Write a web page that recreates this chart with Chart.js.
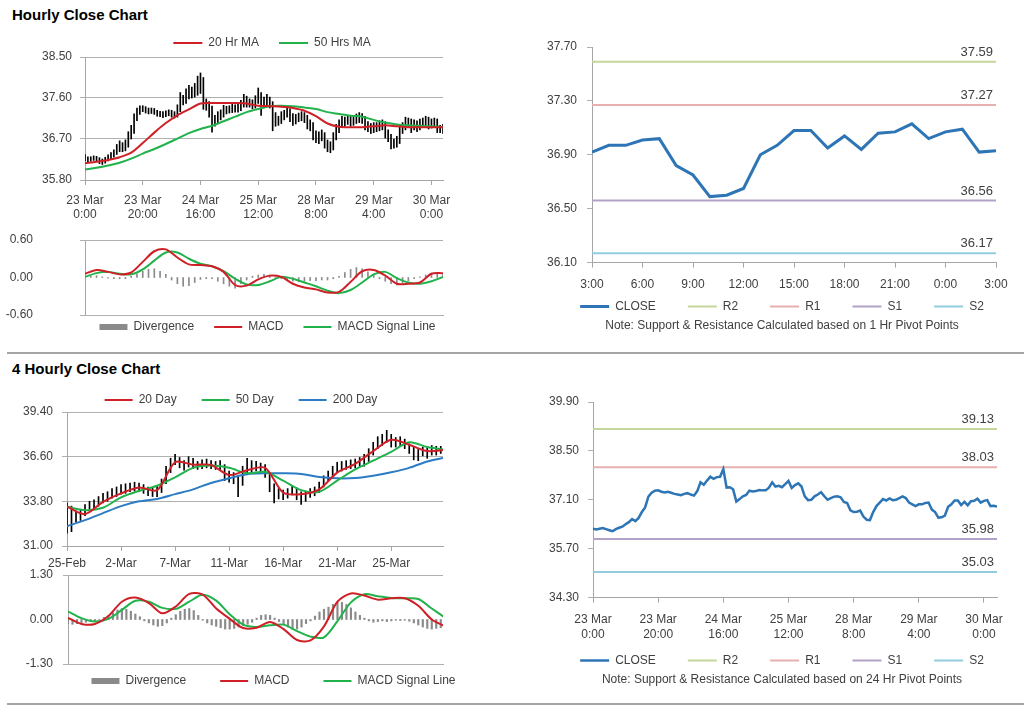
<!DOCTYPE html>
<html>
<head>
<meta charset="utf-8">
<title>Hourly Close Chart</title>
<script src="https://cdn.jsdelivr.net/npm/chart.js@4.4.1/dist/chart.umd.min.js"></script>
<style>
  body { margin: 0; width: 1024px; height: 706px; background: #fff; position: relative; overflow: hidden;
         font-family: Arial, "Liberation Sans", sans-serif; }
  .head { position: absolute; left: 12px; font-size: 15px; line-height: 18px; font-weight: bold; color: #000; }
  .rule { position: absolute; left: 7px; width: 1017px; height: 2px; background: #a5a5a5; }
  canvas { position: absolute; }
</style>
</head>
<body>
<div class="head" style="top:6px">Hourly Close Chart</div>
<div class="rule" style="top:352px"></div>
<div class="head" style="top:360px">4 Hourly Close Chart</div>
<div class="rule" style="top:703px"></div>

<canvas id="hourlyPrice" width="514" height="200" style="left:15px;top:20px"></canvas>
<canvas id="hourlyMacd" width="535" height="111" style="left:0px;top:228px"></canvas>
<canvas id="pivot1h" width="484" height="296" style="left:540px;top:37px"></canvas>
<canvas id="h4Price" width="462" height="186" style="left:10px;top:385px"></canvas>
<canvas id="h4Macd" width="527" height="126" style="left:10px;top:565px"></canvas>
<canvas id="pivot24h" width="484" height="295" style="left:540px;top:392px"></canvas>

<script>
// ---------- hourly data, 23 Mar 0:00 .. 30 Mar 4:00 (one value per hour) ----------
const hourlyTicks = [['23 Mar', '0:00'], ['23 Mar', '20:00'], ['24 Mar', '16:00'], ['25 Mar', '12:00'],
                     ['28 Mar', '8:00'], ['29 Mar', '4:00'], ['30 Mar', '0:00']];
const hourlyPriceTicks = [35.80, 36.70, 37.60, 38.50];

const hourlyClose = [
  36.27, 36.25, 36.27, 36.29, 36.26, 36.23, 36.20, 36.26, 36.30, 36.33,
  36.40, 36.46, 36.55, 36.49, 36.58, 36.75, 36.88, 37.19, 37.30, 37.36,
  37.37, 37.33, 37.31, 37.33, 37.30, 37.27, 37.25, 37.23, 37.27, 37.29,
  37.25, 37.22, 37.35, 37.60, 37.53, 37.65, 37.76, 37.70, 37.75, 37.76,
  37.98, 37.45, 37.46, 37.40, 37.05, 37.12, 37.20, 37.24, 37.36, 37.34,
  37.35, 37.38, 37.37, 37.37, 37.45, 37.60, 37.48, 37.50, 37.46, 37.55,
  37.64, 37.44, 37.52, 37.57, 37.48, 37.20, 37.09, 37.10, 37.20, 37.25,
  37.32, 37.20, 37.10, 37.15, 37.19, 37.20, 37.17, 37.04, 37.01, 36.80,
  36.75, 36.76, 36.79, 36.62, 36.53, 36.52, 36.75, 36.92, 37.02, 37.12,
  37.08, 37.14, 37.09, 37.10, 37.15, 37.20, 37.15, 37.02, 36.97, 36.92,
  36.97, 36.97, 37.01, 37.02, 36.82, 36.75, 36.59, 36.60, 36.65, 36.90,
  36.97, 37.08, 37.08, 36.95, 37.04, 36.94, 37.06, 37.07, 37.13, 37.02,
  37.07, 37.09, 36.92, 36.93, 36.91
];
const hourlyLow = [
  36.22, 36.20, 36.21, 36.23, 36.21, 36.16, 36.14, 36.17, 36.22, 36.26,
  36.30, 36.36, 36.42, 36.42, 36.44, 36.52, 36.70, 36.82, 37.10, 37.24,
  37.30, 37.27, 37.25, 37.26, 37.24, 37.20, 37.19, 37.17, 37.19, 37.21,
  37.18, 37.16, 37.18, 37.30, 37.45, 37.48, 37.58, 37.60, 37.62, 37.66,
  37.70, 37.35, 37.33, 37.18, 36.85, 36.98, 37.05, 37.12, 37.18, 37.25,
  37.27, 37.28, 37.29, 37.29, 37.32, 37.40, 37.40, 37.40, 37.36, 37.38,
  37.48, 37.22, 37.38, 37.44, 37.38, 36.88, 36.98, 37.00, 37.04, 37.12,
  37.18, 37.08, 37.00, 37.03, 37.08, 37.10, 37.06, 36.92, 36.88, 36.68,
  36.62, 36.60, 36.66, 36.50, 36.42, 36.40, 36.46, 36.68, 36.84, 36.96,
  36.98, 37.02, 36.98, 37.00, 37.04, 37.06, 37.04, 36.90, 36.86, 36.82,
  36.84, 36.86, 36.88, 36.90, 36.72, 36.64, 36.48, 36.50, 36.52, 36.60,
  36.82, 36.90, 36.96, 36.84, 36.90, 36.86, 36.90, 36.96, 37.00, 36.92,
  36.94, 36.98, 36.84, 36.84, 36.82
];
const hourlyHigh = [
  36.36, 36.31, 36.31, 36.33, 36.32, 36.29, 36.26, 36.30, 36.35, 36.40,
  36.46, 36.58, 36.66, 36.62, 36.68, 36.86, 37.00, 37.25, 37.38, 37.43,
  37.43, 37.41, 37.38, 37.38, 37.37, 37.33, 37.31, 37.30, 37.32, 37.34,
  37.33, 37.30, 37.45, 37.72, 37.66, 37.80, 37.88, 37.84, 37.92, 38.08,
  38.15, 38.05, 37.58, 37.52, 37.42, 37.22, 37.30, 37.34, 37.44, 37.42,
  37.43, 37.46, 37.45, 37.46, 37.55, 37.68, 37.64, 37.58, 37.56, 37.65,
  37.82, 37.72, 37.62, 37.68, 37.62, 37.52, 37.28, 37.20, 37.30, 37.33,
  37.42, 37.36, 37.26, 37.24, 37.27, 37.30, 37.28, 37.22, 37.12, 37.06,
  36.88, 36.86, 36.90, 36.84, 36.68, 36.64, 36.84, 37.02, 37.12, 37.20,
  37.18, 37.22, 37.20, 37.20, 37.25, 37.28, 37.26, 37.20, 37.08, 37.04,
  37.06, 37.06, 37.10, 37.12, 37.08, 36.90, 36.80, 36.70, 36.76, 36.98,
  37.06, 37.18, 37.16, 37.14, 37.12, 37.10, 37.14, 37.16, 37.20, 37.18,
  37.14, 37.16, 37.14, 37.00, 37.02
];
// moving averages, one value every 4 hours
const hourlyMa20 = [36.17, 36.20, 36.24, 36.30, 36.40, 36.61, 36.84, 37.05, 37.22, 37.35, 37.48, 37.49, 37.49, 37.49, 37.48, 37.43,
                    37.42, 37.41, 37.38, 37.32, 37.20, 37.04, 36.97, 36.96, 36.96, 36.98, 37.00, 36.98, 36.96, 36.96, 36.96, 36.96];
const hourlyMa50 = [36.03, 36.07, 36.12, 36.18, 36.27, 36.38, 36.48, 36.59, 36.71, 36.83, 36.92, 36.99, 37.09, 37.19, 37.29, 37.36,
                    37.42, 37.43, 37.42, 37.39, 37.36, 37.29, 37.25, 37.21, 37.19, 37.12, 37.06, 37.02, 37.00, 36.99, 36.98, 36.96];

const hourlyMacdTicks = [-0.60, 0.00, 0.60];
// every 4 hours
const hourlyMacd = [0.06, 0.12, 0.09, 0.05, 0.08, 0.25, 0.42, 0.45, 0.32, 0.21, 0.20, 0.18, 0.09, -0.12, -0.13, -0.03,
                    0.03, 0.01, -0.10, -0.16, -0.19, -0.24, -0.23, -0.07, 0.10, 0.12, 0.03, -0.10, -0.10, -0.08, 0.06, 0.07];
const hourlySignal = [0.01, 0.07, 0.09, 0.06, 0.05, 0.13, 0.27, 0.40, 0.40, 0.30, 0.22, 0.18, 0.10, -0.02, -0.11, -0.12,
                      -0.06, 0.01, -0.02, -0.08, -0.14, -0.21, -0.25, -0.20, -0.08, 0.05, 0.09, -0.01, -0.08, -0.10, -0.06, 0.01];
// every 2 hours
const hourlyDivergence = [
  0.03, 0.02, 0.03, 0.01, -0.01, -0.02, -0.02, -0.02, 0.02, 0.06,
  0.10, 0.13, 0.14, 0.10, 0.05, -0.04, -0.10, -0.14, -0.13, -0.08,
  -0.03, -0.02, -0.02, -0.06, -0.10, -0.14, -0.17, -0.10, -0.04, 0.02,
  0.04, 0.05, 0.04, 0.01, -0.02, -0.04, -0.06, -0.07, -0.06, -0.05,
  -0.05, -0.04, -0.04, -0.02, 0.02, 0.08, 0.13, 0.16, 0.14, 0.09,
  0.04, -0.02, -0.06, -0.10, -0.12, -0.09, -0.05, -0.02, 0.01, 0.04,
  0.07, 0.06, 0.05
];

// ---------- 1 Hr pivot chart: last 24 hours of the hourly close ----------
const pivot1Ticks = ['3:00', '6:00', '9:00', '12:00', '15:00', '18:00', '21:00', '0:00', '3:00'];
const pivot1PriceTicks = [36.10, 36.50, 36.90, 37.30, 37.70];
const pivot1Levels = [37.59, 37.27, 36.56, 36.17];
const levelNames = ['R2', 'R1', 'S1', 'S2'];

// ---------- 4 hourly data (one value per bar) ----------
const h4Ticks = ['25-Feb', '2-Mar', '7-Mar', '11-Mar', '16-Mar', '21-Mar', '25-Mar'];
const h4PriceTicks = [31.00, 33.80, 36.60, 39.40];
const h4Low = [
  31.80, 31.90, 32.50, 32.60, 32.90, 33.20, 33.30, 33.50, 33.70, 33.80,
  34.00, 34.10, 34.25, 34.30, 34.40, 34.45, 34.40, 34.30, 34.15, 34.10,
  34.10, 34.35, 34.90, 35.60, 36.10, 35.90, 35.75, 35.95, 35.85, 35.80,
  35.85, 35.90, 35.85, 35.80, 35.75, 35.10, 35.00, 34.90, 34.10, 34.80,
  35.60, 35.65, 35.70, 35.60, 35.30, 34.40, 33.70, 33.95, 33.90, 34.00,
  34.20, 33.90, 33.60, 33.80, 34.05, 34.15, 34.35, 34.70, 35.05, 35.35,
  35.65, 35.70, 35.80, 35.85, 35.90, 36.00, 36.00, 36.30, 36.70, 37.10,
  37.30, 37.50, 37.20, 37.20, 37.25, 37.10, 36.80, 36.40, 36.35, 36.65,
  36.50, 36.70, 36.70, 36.80
];
const h4High = [
  33.70, 33.50, 33.20, 33.30, 33.60, 33.80, 33.90, 34.10, 34.30, 34.40,
  34.60, 34.70, 34.85, 34.90, 34.95, 35.00, 34.95, 34.85, 34.70, 34.65,
  34.75, 35.20, 36.00, 36.50, 36.75, 36.55, 36.35, 36.60, 36.50, 36.30,
  36.40, 36.45, 36.35, 36.30, 36.35, 36.10, 35.70, 35.60, 35.40, 36.00,
  36.50, 36.35, 36.30, 36.20, 36.10, 35.60, 34.90, 34.60, 34.50, 34.60,
  34.80, 34.65, 34.40, 34.45, 34.60, 34.70, 35.00, 35.40, 35.70, 36.00,
  36.25, 36.30, 36.35, 36.40, 36.45, 36.55, 36.75, 37.10, 37.50, 37.85,
  38.00, 38.25, 38.00, 37.80, 37.85, 37.70, 37.40, 37.20, 37.05, 37.20,
  37.15, 37.30, 37.25, 37.25
];
// moving averages, one value every 4 bars
const h4Ma20 = [33.46, 33.00, 33.77, 34.30, 34.67, 34.50, 36.25, 36.10, 36.08, 35.45, 35.75,
                35.90, 34.35, 34.25, 34.55, 35.60, 36.15, 36.95, 37.66, 37.35, 36.95, 37.03];
const h4Ma50 = [33.46, 33.25, 33.40, 34.05, 34.45, 34.78, 35.30, 35.90, 36.04, 35.90, 35.56,
                35.65, 35.10, 34.50, 34.40, 35.10, 35.80, 36.35, 36.90, 37.50, 37.20, 37.03];
const h4Ma200 = [32.24, 32.62, 33.06, 33.50, 33.80, 33.95, 34.25, 34.55, 34.95, 35.25, 35.50,
                 35.56, 35.56, 35.52, 35.32, 35.24, 35.26, 35.40, 35.62, 35.90, 36.30, 36.55];

const h4MacdTicks = [-1.30, 0.00, 1.30];
// every 3 bars
const h4Macd = [0.05, -0.13, -0.13, 0.10, 0.52, 0.64, 0.48, 0.18, 0.38, 0.75, 0.73, 0.32, 0.02, -0.25, -0.24,
                -0.07, -0.28, -0.60, -0.61, -0.20, 0.52, 0.76, 0.70, 0.58, 0.62, 0.62, 0.40, 0.00, -0.20];
const h4Signal = [0.24, 0.04, -0.06, 0.02, 0.28, 0.55, 0.52, 0.34, 0.31, 0.52, 0.72, 0.55, 0.15, -0.15, -0.22,
                  -0.17, -0.15, -0.34, -0.50, -0.52, -0.05, 0.50, 0.74, 0.68, 0.63, 0.62, 0.60, 0.32, 0.05];
// every bar
const h4Divergence = [
  -0.12, -0.14, -0.12, -0.10, -0.08, -0.06, -0.04, -0.02, 0.06, 0.12,
  0.20, 0.28, 0.32, 0.30, 0.24, 0.16, 0.08, -0.04, -0.10, -0.16,
  -0.20, -0.18, -0.10, 0.04, 0.14, 0.24, 0.30, 0.32, 0.26, 0.12,
  -0.02, -0.10, -0.16, -0.20, -0.24, -0.28, -0.28, -0.26, -0.22, -0.18,
  -0.14, -0.08, 0.04, 0.12, 0.14, 0.12, 0.04, -0.06, -0.14, -0.22,
  -0.28, -0.28, -0.22, -0.12, -0.04, 0.10, 0.22, 0.30, 0.36, 0.44,
  0.50, 0.50, 0.44, 0.34, 0.22, 0.12, 0.04, -0.04, -0.08, -0.06,
  -0.04, -0.06, -0.04, -0.02, -0.03, -0.02, -0.05, -0.10, -0.16, -0.22,
  -0.26, -0.28, -0.26, -0.24
];

// ---------- 24 Hr pivot chart ----------
const pivot24PriceTicks = [34.30, 35.70, 37.10, 38.50, 39.90];
const pivot24Levels = [39.13, 38.03, 35.98, 35.03];

// ---------- styling ----------
const RED = '#cf2027';
const GREEN = '#22b24c';
const BLUE = '#2b7cc4';
const CLOSE_BLUE = '#2e75b6';
const AXIS = '#a6a6a6';
const GRID = '#b0b0b0';
const levelColors = ['#c3d69b', '#e6b0b0', '#b3a2c7', '#93cddd'];

Chart.defaults.font.family = 'Arial, "Liberation Sans", sans-serif';
Chart.defaults.font.size = 12;
Chart.defaults.color = '#404040';
Chart.defaults.animation = false;
Chart.defaults.responsive = false;
Chart.defaults.events = [];
Chart.defaults.elements.point.radius = 0;
Chart.defaults.elements.point.hoverRadius = 0;
Chart.defaults.plugins.tooltip.enabled = false;

function xy(values, step) {
  return values.map((v, i) => ({ x: i * step, y: v }));
}
function bars(lows, highs) {
  return lows.map((lo, i) => ({ x: i, y: [lo, highs[i]] }));
}
function flat(level, xMax) {
  return [{ x: 0, y: level }, { x: xMax, y: level }];
}

// MACD panels: grid lines at the top and bottom only, none through zero
const skipZero = c => (c.tick && Math.abs(c.tick.value) < 1e-9) ? 0 : 1;

function yAxis(ticks, width, pad, lines, lineWidth) {
  return {
    min: ticks[0],
    max: ticks[ticks.length - 1],
    afterBuildTicks: s => { s.ticks = ticks.map(v => ({ value: v })); },
    afterFit: s => { s.width = width; s.paddingTop = 0; s.paddingBottom = 0; },
    ticks: { padding: pad, callback: v => v.toFixed(2) },
    grid: { drawOnChartArea: lines, tickLength: 5, color: GRID, lineWidth: lineWidth || 1 },
    border: { color: AXIS }
  };
}

// "bare" axes (under the MACD panels) keep their line but show no labels or tick marks
function xAxis(max, every, labels, o) {
  return {
    type: 'linear',
    min: 0,
    max: max,
    offset: false,
    afterBuildTicks: s => { s.ticks = labels.map((_, i) => ({ value: i * every })); },
    afterFit: s => { s.height = o.height; s.paddingRight = o.right; },
    ticks: { padding: o.pad || 0, autoSkip: false, maxRotation: 0, minRotation: 0,
             callback: v => o.bare ? '' : labels[Math.round(v / every)] },
    grid: { offset: false, drawOnChartArea: false, drawTicks: !o.bare, tickLength: 5, color: AXIS },
    border: { color: AXIS, width: 1 }
  };
}

// legend entries: short line for series, flat box for the divergence bars
function legendItems(chart) {
  const sets = chart.data.datasets;
  return Chart.defaults.plugins.legend.labels.generateLabels(chart)
    .filter(it => sets[it.datasetIndex].label)
    .map(it => Object.assign(it, { pointStyle: sets[it.datasetIndex].type === 'bar' ? 'rect' : 'line' }))
    .sort((a, b) => a.datasetIndex - b.datasetIndex);
}

function legendOpts(position, padding, lineWidth) {
  return {
    position: position,
    labels: { usePointStyle: true, pointStyleWidth: lineWidth, boxHeight: 6, padding: padding,
              color: '#404040', font: { size: 12 }, generateLabels: legendItems }
  };
}

// fixed legend height; the legend box is then stretched so its row sits where it does in the report
function legendBox(height, shift) {
  return {
    id: 'legendBox',
    afterInit(chart) {
      const lg = chart.legend;
      const fit = lg.fit;
      lg.fit = function () { fit.call(this); this.height = height; };
    },
    afterLayout(chart) {
      chart.legend.top += shift;
      chart.legend.bottom += 10;
    }
  };
}

// top and bottom frame lines of the MACD panels, placed by the y scale
function frameLines(ticks) {
  return {
    id: 'frameLines',
    beforeDatasetsDraw(chart) {
      const { ctx, chartArea, scales } = chart;
      ctx.save();
      ctx.strokeStyle = GRID;
      ctx.lineWidth = 1;
      [ticks[0], ticks[ticks.length - 1]].forEach(v => {
        const py = Math.round(scales.y.getPixelForValue(v)) + 0.5;
        ctx.beginPath();
        ctx.moveTo(chartArea.left, py);
        ctx.lineTo(chartArea.right, py);
        ctx.stroke();
      });
      ctx.restore();
    }
  };
}

// value written above the right end of each pivot level
function levelLabels(levels) {
  return {
    id: 'levelLabels',
    afterDatasetsDraw(chart) {
      const { ctx, chartArea, scales } = chart;
      ctx.save();
      ctx.font = '13px Arial, "Liberation Sans", sans-serif';
      ctx.fillStyle = '#404040';
      ctx.textAlign = 'right';
      ctx.textBaseline = 'bottom';
      levels.forEach(v => ctx.fillText(v.toFixed(2), chartArea.right - 3, scales.y.getPixelForValue(v) - 3));
      ctx.restore();
    }
  };
}

function pivotDatasets(close, levels, xMax, closeWidth) {
  return [{ type: 'line', label: 'CLOSE', data: close, borderColor: CLOSE_BLUE, borderWidth: closeWidth, tension: 0 }]
    .concat(levelNames.map((name, k) => ({
      type: 'line', label: name, data: flat(levels[k], xMax), borderColor: levelColors[k], borderWidth: 2
    })));
}

// ---------- hourly close with 20 / 50 hour averages ----------
new Chart(document.getElementById('hourlyPrice'), {
  type: 'line',
  data: {
    datasets: [
      { type: 'line', label: '20 Hr MA', data: xy(hourlyMa20, 4), borderColor: RED, borderWidth: 2, tension: 0.3 },
      { type: 'line', label: '50 Hrs MA', data: xy(hourlyMa50, 4), borderColor: GREEN, borderWidth: 2, tension: 0.3 },
      { type: 'bar', data: bars(hourlyLow, hourlyHigh), backgroundColor: '#000', barThickness: 1 }
    ]
  },
  options: {
    scales: {
      x: xAxis(124, 20, hourlyTicks, { height: 40, right: 86, pad: 8 }),
      y: yAxis(hourlyPriceTicks, 70, 8, true)
    },
    plugins: { legend: legendOpts('top', 20, 29) }
  },
  plugins: [legendBox(37, -3)]
});

// ---------- hourly MACD ----------
new Chart(document.getElementById('hourlyMacd'), {
  type: 'line',
  data: {
    datasets: [
      { type: 'bar', label: 'Divergence', data: xy(hourlyDivergence, 2), backgroundColor: '#8a8a8a', barThickness: 1, order: 1 },
      { type: 'line', label: 'MACD', data: xy(hourlyMacd, 4), borderColor: RED, borderWidth: 2, tension: 0.3, order: 0 },
      { type: 'line', label: 'MACD Signal Line', data: xy(hourlySignal, 4), borderColor: GREEN, borderWidth: 2, tension: 0.3, order: 0 }
    ]
  },
  options: {
    layout: { padding: { top: 12 } },
    scales: {
      x: xAxis(124, 20, hourlyTicks, { height: 1, right: 92, bare: true }),
      y: yAxis(hourlyMacdTicks, 85, 47, true, skipZero)
    },
    plugins: { legend: legendOpts('bottom', 20, 28) }
  },
  plugins: [legendBox(23, -15), frameLines(hourlyMacdTicks)]
});

// ---------- 1 Hr pivot points ----------
new Chart(document.getElementById('pivot1h'), {
  type: 'line',
  data: { datasets: pivotDatasets(xy(hourlyClose.slice(99, 124), 1), pivot1Levels, 24, 3) },
  options: {
    layout: { padding: { top: 10 } },
    scales: {
      x: xAxis(24, 3, pivot1Ticks, { height: 30, right: 28, pad: 10 }),
      y: yAxis(pivot1PriceTicks, 52, 10, false)
    },
    plugins: {
      legend: legendOpts('bottom', 32, 29),
      title: { display: true, position: 'bottom', text: 'Note: Support & Resistance Calculated based on 1 Hr Pivot Points',
               color: '#404040', font: { size: 12, weight: 'normal' }, padding: { top: 6, bottom: 0 } }
    }
  },
  plugins: [legendBox(20, -24), levelLabels(pivot1Levels)]
});

// ---------- 4 hourly close with 20 / 50 / 200 averages ----------
new Chart(document.getElementById('h4Price'), {
  type: 'line',
  data: {
    datasets: [
      { type: 'line', label: '20 Day', data: xy(h4Ma20, 4), borderColor: RED, borderWidth: 2, tension: 0.3 },
      { type: 'line', label: '50 Day', data: xy(h4Ma50, 4), borderColor: GREEN, borderWidth: 2, tension: 0.3 },
      { type: 'line', label: '200 Day', data: xy(h4Ma200, 4), borderColor: BLUE, borderWidth: 2, tension: 0.3 },
      { type: 'bar', data: bars(h4Low, h4High), backgroundColor: '#000', barThickness: 1 }
    ]
  },
  options: {
    scales: {
      x: xAxis(83.5, 12, h4Ticks, { height: 25, right: 29, pad: 5 }),
      y: yAxis(h4PriceTicks, 57, 9, true)
    },
    plugins: { legend: legendOpts('top', 25, 28) }
  },
  plugins: [legendBox(27, -16)]
});

// ---------- 4 hourly MACD ----------
new Chart(document.getElementById('h4Macd'), {
  type: 'line',
  data: {
    datasets: [
      { type: 'bar', label: 'Divergence', data: xy(h4Divergence, 1), backgroundColor: '#8a8a8a', barThickness: 1.5, order: 1 },
      { type: 'line', label: 'MACD', data: xy(h4Macd, 3), borderColor: RED, borderWidth: 2, tension: 0.3, order: 0 },
      { type: 'line', label: 'MACD Signal Line', data: xy(h4Signal, 3), borderColor: GREEN, borderWidth: 2, tension: 0.3, order: 0 }
    ]
  },
  options: {
    layout: { padding: { top: 10 } },
    scales: {
      x: xAxis(83.5, 12, h4Ticks, { height: 1, right: 94, bare: true }),
      y: yAxis(h4MacdTicks, 58, 10, true, skipZero)
    },
    plugins: { legend: legendOpts('bottom', 34, 28) }
  },
  plugins: [legendBox(26, -24), frameLines(h4MacdTicks)]
});

// ---------- 24 Hr pivot points ----------
new Chart(document.getElementById('pivot24h'), {
  type: 'line',
  data: { datasets: pivotDatasets(xy(hourlyClose, 1), pivot24Levels, 124, 2.5) },
  options: {
    layout: { padding: { top: 10 } },
    scales: {
      x: xAxis(124, 20, hourlyTicks, { height: 45, right: 27, pad: 10 }),
      y: yAxis(pivot24PriceTicks, 53, 9, false)
    },
    plugins: {
      legend: legendOpts('bottom', 32, 29),
      title: { display: true, position: 'bottom', text: 'Note: Support & Resistance Calculated based on 24 Hr Pivot Points',
               color: '#404040', font: { size: 12, weight: 'normal' }, padding: { top: 10, bottom: 0 } }
    }
  },
  plugins: [legendBox(20, -20), levelLabels(pivot24Levels)]
});
</script>
</body>
</html>
